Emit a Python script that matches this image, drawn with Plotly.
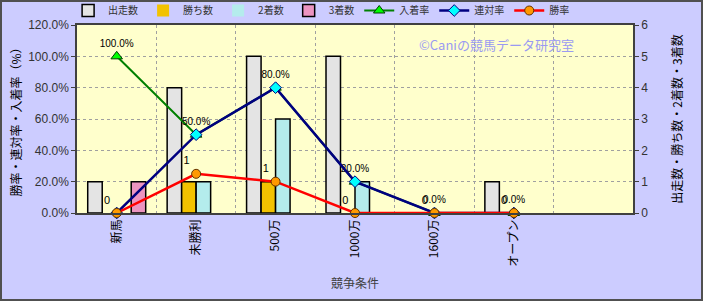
import plotly.graph_objects as go

categories = ["新馬", "未勝利", "500万", "1000万", "1600万", "オープン"]
axis_categories = categories + [" "]

starts = [1, 4, 5, 5, 0, 1]        # 出走数
wins = [0, 1, 1, 0, 0, 0]          # 勝ち数
seconds = [0, 1, 3, 1, 0, 0]       # 2着数
thirds = [1, 0, 0, 0, 0, 0]        # 3着数

place_rate = [1.0, 0.5, 0.8, 0.2, 0.0, 0.0]   # 入着率
quinella_rate = [0.0, 0.5, 0.8, 0.2, 0.0, 0.0]  # 連対率
win_rate = [0.0, 0.25, 0.2, 0.0, 0.0, 0.0]     # 勝率

FONT = "Noto Sans CJK JP"

fig = go.Figure()

bar_specs = [
    ("出走数", starts, "#e4e4e4"),
    ("勝ち数", wins, "#f2c200"),
    ("2着数", seconds, "#b4ecec"),
    ("3着数", thirds, "#ec94c0"),
]
for name, vals, col in bar_specs:
    fig.add_trace(go.Bar(
        x=categories, y=vals, name=name, yaxis="y",
        marker=dict(color=col, line=dict(color="#000000",
                                         width=[1.5 if v else 0 for v in vals])),
    ))

fig.add_trace(go.Scatter(
    x=categories, y=place_rate, name="入着率", yaxis="y2",
    mode="lines+markers+text",
    line=dict(color="#008000", width=2),
    marker=dict(symbol="triangle-up", size=10, color="#00ff00",
                line=dict(color="#004000", width=1)),
    texttemplate="%{y:.1%}", textposition="top center",
    textfont=dict(family="Liberation Sans", size=10, color="#000000"),
    cliponaxis=False,
))
fig.add_trace(go.Scatter(
    x=categories, y=quinella_rate, name="連対率", yaxis="y2",
    mode="lines+markers",
    line=dict(color="#000080", width=2.5),
    marker=dict(symbol="diamond", size=9, color="#00ffff",
                line=dict(color="#000080", width=1)),
    cliponaxis=False,
))
fig.add_trace(go.Scatter(
    x=categories, y=win_rate, name="勝率", yaxis="y2",
    mode="lines+markers+text",
    line=dict(color="#ff0000", width=2.5),
    marker=dict(symbol="circle", size=9, color="#ff9900",
                line=dict(color="#603000", width=1)),
    text=[str(v) for v in wins], textposition="top left",
    textfont=dict(family="Liberation Sans", size=11, color="#000000"),
    cliponaxis=False,
))

W, H = 703, 301
ml, mr, mt, mb = 77, 70, 25, 88
pw, ph = W - ml - mr, H - mt - mb

fig.update_layout(
    width=W, height=H,
    margin=dict(l=ml, r=mr, t=mt, b=mb, autoexpand=False),
    paper_bgcolor="#ccccff",
    plot_bgcolor="#ffffcc",
    font=dict(family=FONT, size=11, color="#333333"),
    barmode="group", bargap=0.27, bargroupgap=0,
    showlegend=True,
    legend=dict(orientation="h", x=-0.016, y=1.0, xanchor="left", yanchor="bottom",
                font=dict(family=FONT, size=10, color="#333333"),
                bgcolor="rgba(0,0,0,0)",
                itemwidth=30, tracegroupgap=0),
    xaxis=dict(
        type="category", categoryorder="array", categoryarray=axis_categories,
        range=[-0.5, 6.5], tickson="boundaries", ticks="", tickangle=-90,
        automargin=False,
        showgrid=True, gridcolor="#a0a0a0", griddash="dot", gridwidth=1,
        showline=True, linecolor="#404040", linewidth=1.5, mirror=True,
        tickfont=dict(family=FONT, size=12, color="#000000"),
        title=dict(text="競争条件", font=dict(family=FONT, size=12, color="#404040"), standoff=14),
    ),
    yaxis=dict(
        side="right", range=[0, 6], dtick=1, automargin=False,
        showgrid=True, gridcolor="#a0a0a0", griddash="dot", gridwidth=1,
        showline=True, linecolor="#404040", linewidth=1.5, mirror=True,
        ticks="outside", ticklen=4, tickcolor="#404040",
        tickfont=dict(family="Liberation Sans", size=12, color="#333333"),
        zeroline=False,
        title=dict(text="出走数・勝ち数・2着数・3着数", font=dict(family=FONT, size=12, color="#000000"), standoff=26),
    ),
    yaxis2=dict(
        overlaying="y", side="left", range=[0, 1.2], dtick=0.2, tickformat=".1%",
        showgrid=False, zeroline=False, automargin=False,
        showline=True, linecolor="#404040", linewidth=1.5,
        ticks="outside", ticklen=4, tickcolor="#404040",
        tickfont=dict(family="Liberation Sans", size=12, color="#333333"),
        title=dict(text="勝率・連対率・入着率（%）", font=dict(family=FONT, size=12, color="#000000"), standoff=4),
    ),
    annotations=[dict(
        text="©Caniの競馬データ研究室", xref="paper", yref="paper",
        x=0.755, y=0.894, xanchor="center", yanchor="middle", showarrow=False,
        font=dict(family=FONT, size=13, color="#9a9af2"),
    )],
    shapes=[dict(
        type="rect", xref="paper", yref="paper",
        x0=-(ml - 1) / pw, x1=1 + (mr - 1) / pw,
        y0=-(mb - 1) / ph, y1=1 + (mt - 1) / ph,
        line=dict(color="#505050", width=2), fillcolor="rgba(0,0,0,0)", layer="above",
    )],
)

fig.write_html("out.html")
